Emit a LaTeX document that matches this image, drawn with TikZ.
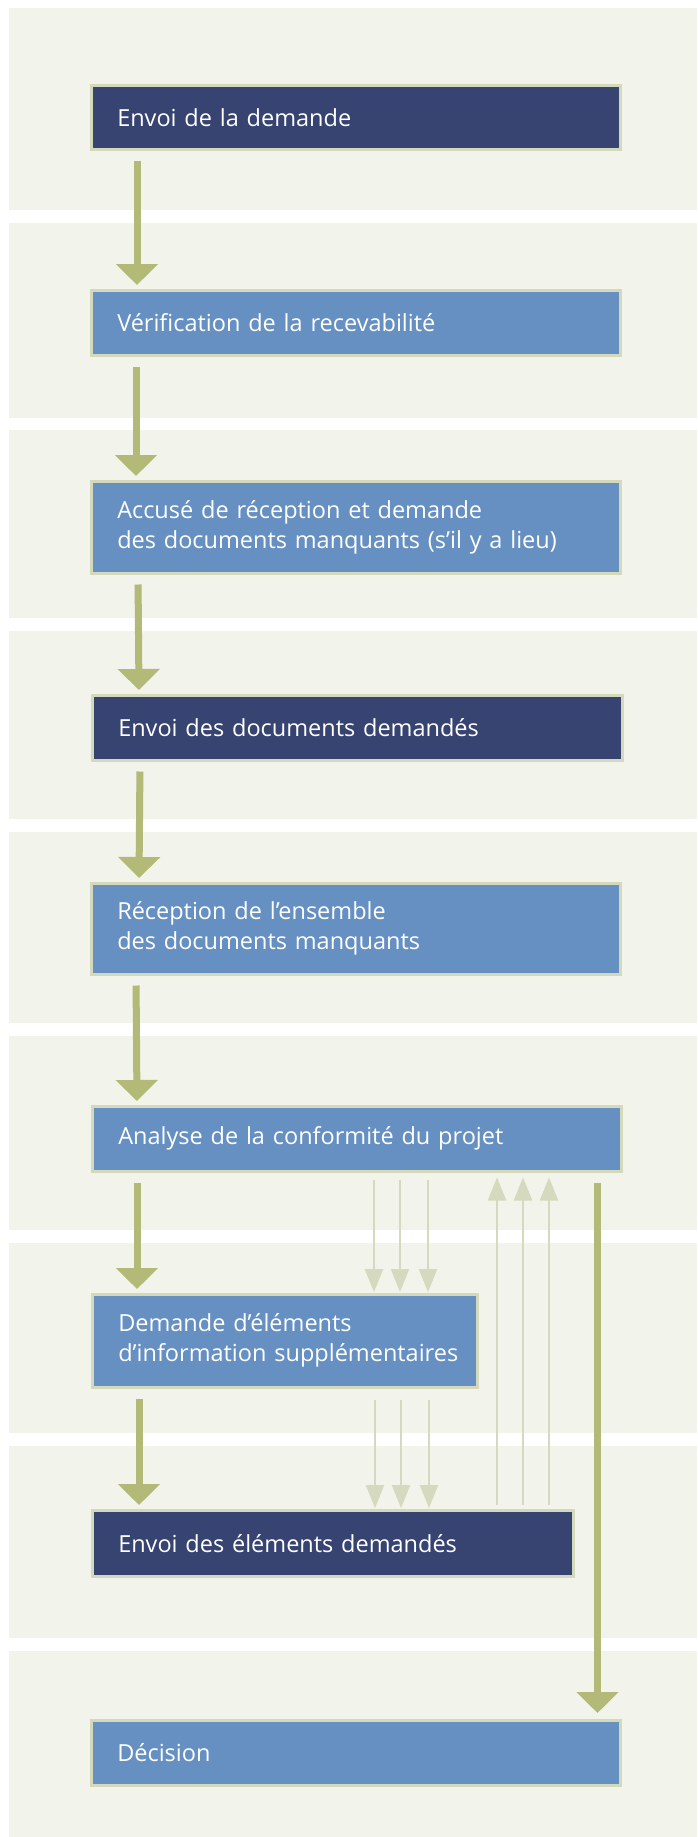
\documentclass[tikz,border=0pt]{standalone}
\usepackage{fontspec}
\setmainfont{Open Sans}
\usetikzlibrary{arrows.meta}
\definecolor{bandbg}{HTML}{F2F3EB}
\definecolor{navy}{HTML}{374472}
\definecolor{stepblue}{HTML}{6690C2}
\definecolor{rim}{HTML}{D5D9BB}
\definecolor{olive}{HTML}{B3BA78}
\definecolor{paleolive}{HTML}{D5D9BE}

\begin{document}
\begin{tikzpicture}[x=1pt,y=-1pt,
  stepbox/.style={anchor=north west, draw=rim, line width=2.5pt, text=white, inner xsep=26pt, align=left, font=\fontsize{23.5}{30}\selectfont},
  darkstep/.style={stepbox, fill=navy},
  lightstep/.style={stepbox, fill=stepblue},
  flow/.style={draw=olive, line width=7pt, -{Triangle[width=41pt,length=21pt]}},
  thinflow/.style={draw=paleolive, line width=2.5pt, -{Triangle[width=18pt,length=23pt]}}]
\useasboundingbox (0,0) rectangle (697,1837);
\fill[white] (0,0) rectangle (697,1837);
\foreach \t/\b in {8/210, 223/418, 430/618, 631/819, 832/1023, 1036/1230, 1243/1433, 1446/1638, 1651/1837}
  \fill[bandbg] (9,\t) rectangle (697,\b);
\node[darkstep, text width=477pt, minimum height=64pt] (b1) at (90,84) {Envoi de la demande};
\node[lightstep, text width=477pt, minimum height=65pt] (b2) at (90,289) {Vérification de la recevabilité};
\node[lightstep, text width=477pt, minimum height=92pt] (b3) at (90,480) {Accusé de réception et demande\\des documents manquants (s’il y a lieu)};
\node[darkstep, text width=478pt, minimum height=65pt] (b4) at (91,694) {Envoi des documents demandés};
\node[lightstep, text width=477pt, minimum height=91pt] (b5) at (90,882) {Réception de l’ensemble\\des documents manquants};
\node[lightstep, text width=477pt, minimum height=65pt] (b6) at (91,1105) {Analyse de la conformité du projet};
\node[lightstep, text width=333pt, minimum height=93pt] (b7) at (91,1293) {Demande d’éléments\\\mbox{d’information supplémentaires}};
\node[darkstep, text width=429pt, minimum height=66pt] (b8) at (91,1509) {Envoi des éléments demandés};
\node[lightstep, text width=477pt, minimum height=65pt] (b9) at (90,1719) {Décision};
\foreach \a/\b/\dx in {b1/b2/47, b2/b3/46, b3/b4/48, b4/b5/49, b5/b6/46, b6/b7/46, b7/b8/48}
  \draw[flow, shorten <=10pt, shorten >=4pt] ([xshift=\dx pt]\a.south west) -- ([xshift=\dx pt]\b.north west);
\draw[flow, shorten <=10pt, shorten >=6pt] ([xshift=-25pt]b6.south east) -- ([xshift=-24pt]b9.north east);
\foreach \dx in {283,309,337}
  \draw[thinflow, shorten <=7pt, shorten >=1pt] ([xshift=\dx pt]b6.south west) -- ([xshift=\dx pt]b7.north west);
\foreach \dx in {284,310,338}
  \draw[thinflow, shorten <=11pt, shorten >=1pt] ([xshift=\dx pt]b7.south west) -- ([xshift=\dx pt]b8.north west);
\foreach \dx in {406,432,458}
  \draw[thinflow, shorten <=4pt, shorten >=5pt] ([xshift=\dx pt]b8.north west) -- ([xshift=\dx pt]b6.south west);
\end{tikzpicture}
\end{document}
